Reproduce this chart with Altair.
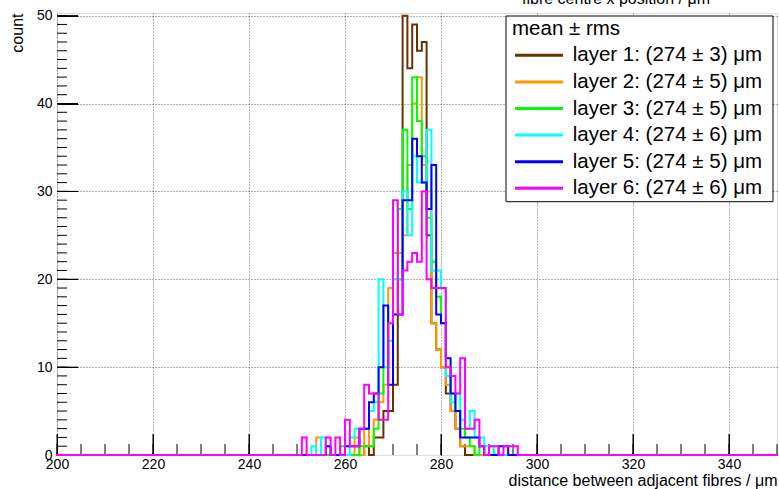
import altair as alt
import pandas as pd

# ---------------- data ----------------
X_RANGE = [200, 350]
Y_RANGE = [0, 50.3]
X_MAJOR = [200, 220, 240, 260, 280, 300, 320, 340]
X_MINOR = list(range(200, 351, 5))
Y_MAJOR = [0, 10, 20, 30, 40, 50]
Y_MINOR = list(range(0, 51))

LAYER_NAMES = ["layer 1", "layer 2", "layer 3", "layer 4", "layer 5", "layer 6"]
LEGEND_TITLE = "mean ± rms"
LEGEND_LABELS = [
    "layer 1: (274 ± 3) μm",
    "layer 2: (274 ± 5) μm",
    "layer 3: (274 ± 5) μm",
    "layer 4: (274 ± 6) μm",
    "layer 5: (274 ± 5) μm",
    "layer 6: (274 ± 6) μm",
]
COLORS = ["#663300", "#ff9900", "#00ff00", "#00ffff", "#0000ff", "#ff00ff"]

# counts per 1 µm bin, first bin given by *_START; all other bins are empty
LAYER1_START = 264
LAYER1 = [1, 0, 2, 2, 5, 5, 8, 20, 50, 44, 49, 46, 47, 25, 15, 12, 10, 7, 5, 3, 1]
LAYER2_START = 254
LAYER2 = [2, 0, 0, 0, 0, 0, 0, 0, 2, 0, 3, 1, 4, 6, 8, 19, 23, 23, 25, 33, 40, 43,
          33, 30, 15, 12, 10, 8, 5, 3, 1, 1, 1]
LAYER3_START = 259
LAYER3 = [1, 0, 0, 0, 1, 1, 1, 3, 7, 10, 13, 20, 28, 37, 28, 43, 38, 34, 27, 22, 18,
          15, 10, 7, 5, 3, 2, 1, 0, 1, 0, 1]
LAYER4_START = 253
LAYER4 = [1, 0, 2, 1, 0, 0, 0, 0, 2, 3, 3, 3, 5, 6, 20, 10, 13, 20, 20, 30, 25, 34,
          31, 31, 37, 21, 21, 19, 9, 6, 7, 4, 3, 5, 2, 2, 1, 1]
LAYER5_START = 256
LAYER5 = [1, 0, 0, 0, 1, 1, 1, 3, 3, 6, 7, 10, 17, 8, 16, 16, 29, 29, 36, 34, 31, 28,
          33, 16, 15, 11, 7, 5, 2, 2, 2, 2, 1, 0, 0, 0, 1, 1]
LAYER6_START = 251
LAYER6 = [2, 0, 0, 0, 0, 2, 0, 2, 0, 4, 1, 1, 3, 8, 7, 7, 4, 4, 15, 29, 16, 21, 22,
          23, 22, 30, 20, 19, 19, 19, 10, 9, 7, 11, 3, 3, 4, 1, 0, 1, 1, 0, 1, 1, 1]

STARTS = [LAYER1_START, LAYER2_START, LAYER3_START, LAYER4_START, LAYER5_START, LAYER6_START]
COUNTS = [LAYER1, LAYER2, LAYER3, LAYER4, LAYER5, LAYER6]

X_TITLE = "distance between adjacent fibres / μm"
Y_TITLE = "count"
TOP_TEXT = "fibre centre x position / μm"

# ---------------- table ----------------
rows = []
for name, start, vals in zip(LAYER_NAMES, STARTS, COUNTS):
    lookup = {start + i: v for i, v in enumerate(vals)}
    for edge in range(X_RANGE[0], X_RANGE[1] + 1):
        rows.append({"layer": name, "x": edge, "count": lookup.get(edge, 0)})
df = pd.DataFrame(rows)

# ---------------- layout ----------------
W, H = 720, 442
FONT = "Liberation Sans"
MAJ, MIN_X, MIN_Y = 21, 11, 10

x_scale = alt.Scale(domain=X_RANGE, nice=False, zero=False)
y_scale = alt.Scale(domain=Y_RANGE, nice=False, zero=False)

x_axes = [
    alt.Axis(orient="top", values=X_MAJOR, grid=True, gridDash=[1, 2], gridColor="#000000",
             gridOpacity=0.6, gridWidth=1, ticks=False, labels=False, domain=False, title=None),
    alt.Axis(orient="bottom", values=X_MAJOR, offset=-MAJ, tickSize=MAJ, tickColor="black",
             labelPadding=2, labelFlush=False, labelFont=FONT, labelFontSize=14,
             labelColor="black", domain=False, grid=False,
             title=X_TITLE, titleX=W, titleY=46, titleAlign="right", titleBaseline="middle",
             titleFont=FONT, titleFontSize=16, titleFontWeight="normal", titleColor="black"),
]
y_axes = [
    alt.Axis(orient="right", values=Y_MAJOR[1:], grid=True, gridDash=[1, 2], gridColor="#000000",
             gridOpacity=0.6, gridWidth=1, ticks=False, labels=False, domain=False, title=None),
    alt.Axis(orient="left", values=Y_MAJOR, offset=-MAJ, tickSize=MAJ, tickColor="black",
             labelPadding=5, labelFont=FONT, labelFontSize=14, labelColor="black",
             domain=False, grid=False,
             title=Y_TITLE, titleX=-60.5, titleY=0, titleAngle=270, titleAlign="right",
             titleBaseline="middle", titleFont=FONT, titleFontSize=16,
             titleFontWeight="normal", titleColor="black"),
]

# ---------------- ROOT-style inward ticks (through the scales) ----------------
tick_layers = []
for vals, size, chan in [(X_MAJOR, MAJ, "x"), (X_MINOR, MIN_X, "x"),
                         (Y_MAJOR, MAJ, "y"), (Y_MINOR, MIN_Y, "y")]:
    tdf = pd.DataFrame({"v": vals})
    if chan == "x":
        enc = dict(x=alt.X("v:Q", scale=x_scale, axis=None),
                   y=alt.value(H - size), y2=alt.value(H))
    else:
        enc = dict(y=alt.Y("v:Q", scale=y_scale, axis=None),
                   x=alt.value(0), x2=alt.value(size))
    tick_layers.append(alt.Chart(tdf).mark_rule(color="black", strokeWidth=1).encode(**enc))

hist_layers = []
for i, (name, color) in enumerate(zip(LAYER_NAMES, COLORS)):
    xa = x_axes[i] if i < len(x_axes) else None
    ya = y_axes[i] if i < len(y_axes) else None
    hist_layers.append(
        alt.Chart(df[df["layer"] == name])
        .mark_line(interpolate="step-after", strokeWidth=2, color=color,
                   strokeJoin="miter", strokeCap="square")
        .encode(
            x=alt.X("x:Q", scale=x_scale, axis=xa),
            y=alt.Y("count:Q", scale=y_scale, axis=ya),
        )
    )

# ---------------- legend box (drawn by hand, ROOT style) ----------------
one = pd.DataFrame({"d": [0]})
LEG_X0, LEG_X1, LEG_Y0, LEG_Y1 = 449, 716, 3, 188.7
ROW0, ROWSTEP = 42.3, 26.6
LEG_FONT = 20.5

legend_layers = [
    alt.Chart(one).mark_rect(fill="white", stroke="black", strokeWidth=1).encode(
        x=alt.value(LEG_X0), x2=alt.value(LEG_X1), y=alt.value(LEG_Y0), y2=alt.value(LEG_Y1)
    ),
    alt.Chart(one).mark_text(align="left", baseline="middle", font=FONT, fontSize=LEG_FONT,
                             color="black").encode(
        x=alt.value(455), y=alt.value(16), text=alt.value(LEGEND_TITLE)
    ),
]
for i, (lab, color) in enumerate(zip(LEGEND_LABELS, COLORS)):
    yy = ROW0 + ROWSTEP * i
    legend_layers.append(
        alt.Chart(one).mark_rule(color=color, strokeWidth=3).encode(
            x=alt.value(458), x2=alt.value(506), y=alt.value(yy)
        )
    )
    legend_layers.append(
        alt.Chart(one).mark_text(align="left", baseline="middle", font=FONT, fontSize=LEG_FONT,
                                 color="black").encode(
            x=alt.value(515.7), y=alt.value(yy), text=alt.value(lab)
        )
    )

top_text = alt.Chart(one).mark_text(align="right", baseline="alphabetic", font=FONT,
                                    fontSize=16, color="black").encode(
    x=alt.value(653), y=alt.value(-9.5), text=alt.value(TOP_TEXT)
)

chart = (
    alt.layer(*tick_layers, *hist_layers, *legend_layers, top_text)
    .resolve_axis(x="independent", y="independent")
    .properties(
        width=W,
        height=H,
        autosize=alt.AutoSizeParams(type="none"),
        padding={"left": 57, "top": 13, "right": 2, "bottom": 34},
        background="white",
    )
    .configure_view(stroke="black", strokeWidth=1)
    .configure(font=FONT)
)

chart.save("out.html", embed_options={"renderer": "svg", "actions": False})
